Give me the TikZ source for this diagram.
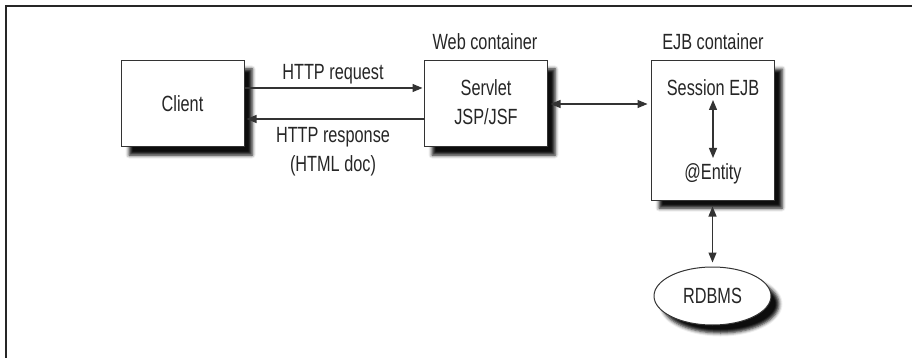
\documentclass[tikz,border=0pt]{standalone}
\usepackage{fontspec}
\setmainfont[FakeStretch=0.74]{Liberation Sans}
\usetikzlibrary{arrows.meta,shadows.blur,shapes.geometric}
\begin{document}
\begin{tikzpicture}[x=1pt,y=-1pt,
  every node/.style={font=\fontsize{22}{24}\selectfont, text=black!85},
  boxnode/.style={draw=black!80, line width=1pt, fill=white,
    blur shadow={shadow xshift=8pt, shadow yshift=-8pt, shadow blur radius=3.5pt, shadow opacity=95}},
  conn/.style={draw=black!80, line width=1.2pt, -{Triangle[length=10pt,width=8pt]}},
  biconn/.style={draw=black!80, line width=1.2pt, {Triangle[length=10pt,width=8pt]}-{Triangle[length=10pt,width=8pt]}},
  lbl/.style={inner sep=0pt}]
\useasboundingbox (0,0) rectangle (912,358);
\draw[line width=1.5pt, black!85] (6,358) -- (6,6) -- (912,6);
% boxes
\node[boxnode, minimum width=123pt, minimum height=86pt] (client) at (182.5,104) {};
\node[lbl] (clienttxt) at (182.5,104) {Client};
\node[boxnode, minimum width=123pt, minimum height=86pt] (web) at (485.5,104) {};
\node[lbl] (servlet) at (486,88) {Servlet};
\node[lbl] (jsp) at (486,117) {JSP/JSF};
\node[lbl] (webcap) at (485,42) {Web container};
\node[boxnode, minimum width=123pt, minimum height=139pt] (ejb) at (712.5,130.5) {};
\node[lbl] (sess) at (713,88) {Session EJB};
\node[lbl] (ent) at (713,174) {@Entity};
\node[lbl] (ejbcap) at (713,42) {EJB container};
\node[boxnode, ellipse, minimum width=117pt, minimum height=58pt] (db) at (712.5,296) {};
\node[lbl] (dbtxt) at (712.5,296) {RDBMS};
% labels
\node[lbl] (req) at (333,74) {HTTP request};
\node[lbl] (resp) at (333,137) {HTTP response};
\node[lbl] (html) at (333,166) {(HTML doc)};
% connectors
\coordinate (c1) at (client.east |- 0,88);
\coordinate (w1) at (web.west |- 0,88);
\coordinate (c2) at (client.east |- 0,119);
\coordinate (w2) at (web.west |- 0,119);
\draw[conn, shorten >=1pt] (c1) -- (w1);
\draw[conn, shorten >=2pt] (w2) -- (c2);
\draw[biconn, shorten <=3pt, shorten >=3pt] (web.east) -- (ejb.west |- web.east);
\draw[biconn] (713,100) -- (713,158);
\draw[biconn, shorten <=6pt, shorten >=4pt] (ejb.south) -- (db.north);
\end{tikzpicture}
\end{document}
